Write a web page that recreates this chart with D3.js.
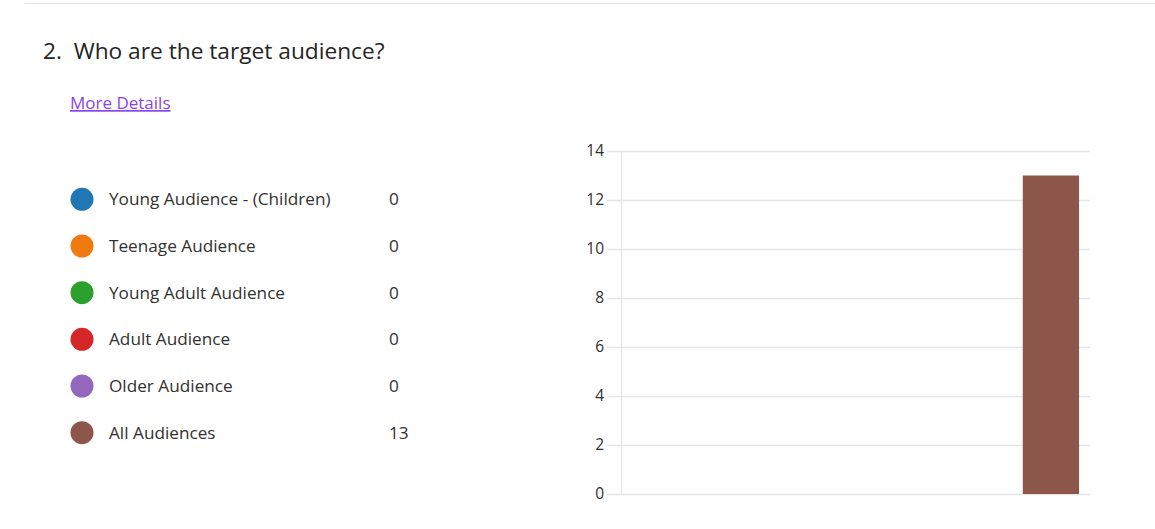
<!DOCTYPE html>
<html><head><meta charset="utf-8">
<script src="https://cdn.jsdelivr.net/npm/d3@7"></script>
<style>
html,body{margin:0;padding:0;background:#fff;}
svg text{font-family:"Segoe UI","Open Sans","Noto Sans",sans-serif;}
</style></head>
<body><svg id="c" width="1155" height="529"></svg>
<script>
const categories = ["Young Audience - (Children)","Teenage Audience","Young Adult Audience","Adult Audience","Older Audience","All Audiences"];
const values = [0,0,0,0,0,13];
const colors = ["#1f77b4","#f07a10","#2ca02c","#d62728","#9467bd","#8c564b"];
const yTicks = [0,2,4,6,8,10,12,14];
const title = "2.\u00a0 Who are the target audience?";
const linkText = "More Details";

const svg = d3.select("#c");
svg.append("line").attr("x1",25).attr("x2",1155).attr("y1",3.5).attr("y2",3.5)
  .attr("stroke","#e6e6e6").attr("stroke-width",1);
svg.append("text").attr("x",43).attr("y",59).style("font-size","22.7px").attr("fill","#252423").text(title);
svg.append("text").attr("x",70).attr("y",109).style("font-size","17px").attr("fill","#8b44e6")
  .attr("text-decoration","underline").text(linkText);

// legend
const ly = d3.scaleBand().domain(categories).range([176,456]);
const lg = svg.append("g").selectAll("g").data(categories).join("g")
  .attr("transform",d=>`translate(0,${ly(d)+ly.bandwidth()/2})`);
lg.append("circle").attr("cx",82).attr("cy",0).attr("r",11.5).attr("fill",(d,i)=>colors[i]);
lg.append("text").attr("x",109).attr("y",6).style("font-size","17.2px").attr("fill","#323130").text(d=>d);
lg.append("text").attr("x",389).attr("y",6).style("font-size","17.2px").attr("fill","#323130").text((d,i)=>values[i]);

// chart
const x = d3.scaleBand().domain(categories).range([621,1090]).paddingInner(0.28).paddingOuter(0.14);
const y = d3.scaleLinear().domain([0,14]).range([494,151]);
const gy = svg.append("g").attr("transform","translate(621,0)")
  .call(d3.axisLeft(y).tickValues(yTicks).tickSize(-(1090-607)).tickSizeOuter(0).tickPadding(4));
gy.attr("font-size",null).attr("font-family",null);
gy.select(".domain").remove();
gy.selectAll(".tick line").attr("x1",-14).attr("x2",1090-621).attr("stroke","#e6e6e6").attr("stroke-width",1.3);
gy.selectAll(".tick text").attr("x",-17).style("font-size","15.5px").attr("fill","#323130");
svg.append("line").attr("x1",621.5).attr("x2",621.5).attr("y1",151).attr("y2",494).attr("stroke","#e6e6e6").attr("stroke-width",1.3);
svg.append("g").selectAll("rect").data(categories).join("rect")
  .attr("x",d=>x(d)).attr("width",x.bandwidth())
  .attr("y",(d,i)=>y(values[i])).attr("height",(d,i)=>y(0)-y(values[i]))
  .attr("fill",(d,i)=>colors[i]);
</script></body></html>
